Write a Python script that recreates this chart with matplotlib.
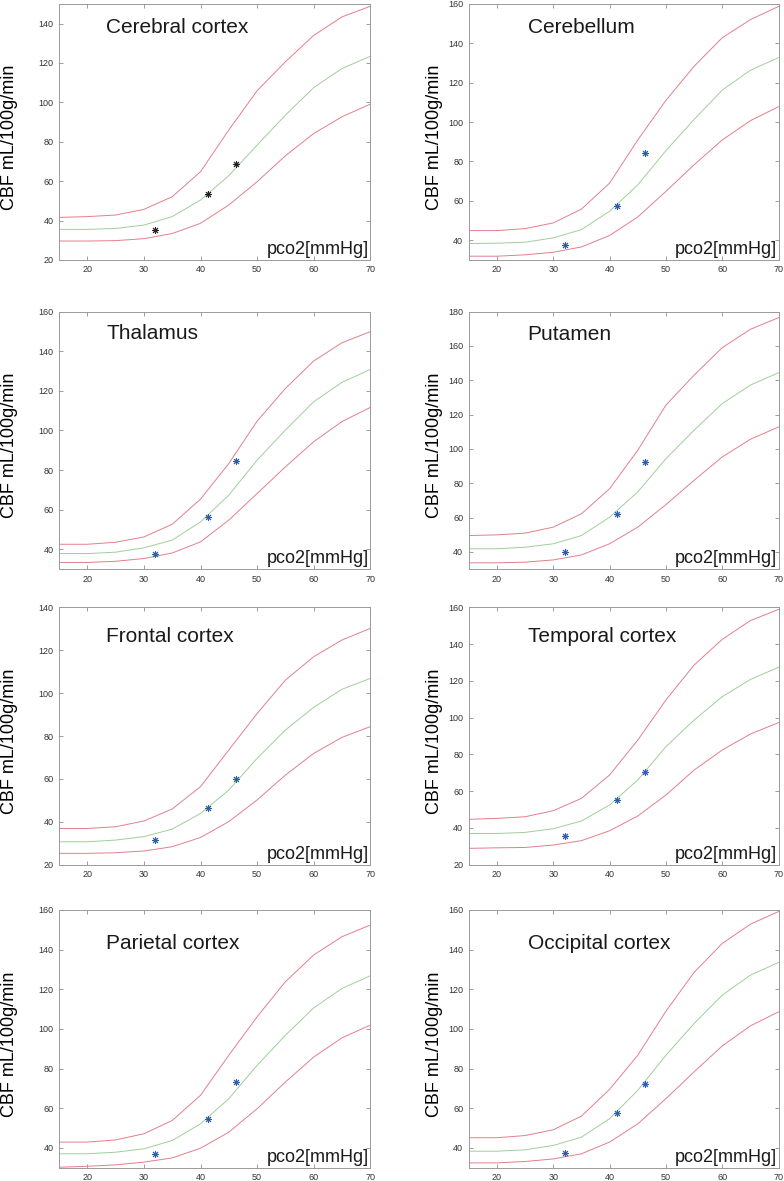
"""CBF vs pCO2 response curves for eight brain regions (upper/mean/lower bands + measured points)."""

import matplotlib
matplotlib.use("Agg")
import matplotlib.pyplot as plt

plt.rcParams["font.family"] = ["Liberation Sans", "DejaVu Sans"]

PCO2 = [15, 20, 25, 30, 35, 40, 45, 50, 55, 60, 65, 70]
MEAS_PCO2 = [32.0, 41.4, 46.3]

# Cerebral cortex
cerebral_upper = [41.6, 42.0, 42.8, 45.7, 52.1, 64.8, 86.0, 105.9, 120.6, 134.0, 143.4, 148.8]
cerebral_mean = [35.5, 35.5, 36.0, 37.7, 42.0, 50.4, 62.8, 78.3, 93.5, 107.5, 117.2, 123.4]
cerebral_lower = [29.6, 29.6, 29.8, 30.8, 33.4, 38.6, 47.9, 59.7, 72.9, 84.2, 92.7, 99.1]
cerebral_meas = [35.3, 53.3, 68.9]

# Cerebellum
cerebellum_upper = [44.9, 44.9, 45.9, 48.8, 55.8, 69.0, 90.9, 111.0, 128.3, 142.8, 152.0, 158.7]
cerebellum_mean = [38.3, 38.5, 39.0, 41.2, 45.4, 54.7, 68.1, 85.5, 101.3, 116.2, 126.3, 132.7]
cerebellum_lower = [31.9, 31.9, 32.6, 33.9, 36.6, 42.4, 51.8, 64.8, 78.3, 90.9, 100.7, 107.8]
cerebellum_meas = [37.5, 57.2, 84.5]

# Thalamus
thalamus_upper = [42.5, 42.5, 43.5, 46.2, 52.6, 65.3, 83.3, 104.7, 121.2, 135.1, 144.3, 149.9]
thalamus_mean = [37.8, 37.8, 38.5, 40.7, 44.6, 53.8, 67.3, 85.0, 100.2, 114.5, 124.3, 130.8]
thalamus_lower = [33.3, 33.3, 33.9, 35.3, 38.1, 43.7, 54.7, 68.1, 81.6, 94.3, 104.5, 111.6]
thalamus_meas = [37.8, 56.3, 84.5]

# Putamen
putamen_upper = [49.5, 49.9, 50.9, 54.4, 62.2, 76.8, 99.2, 125.5, 143.0, 159.0, 169.7, 176.5]
putamen_mean = [41.8, 41.8, 42.7, 44.7, 49.5, 60.2, 74.9, 94.3, 110.9, 126.4, 137.2, 144.4]
putamen_lower = [33.6, 33.6, 34.0, 35.3, 38.2, 44.7, 54.4, 67.5, 81.7, 95.3, 105.6, 112.8]
putamen_meas = [40.0, 62.2, 92.4]

# Frontal cortex
frontal_upper = [36.9, 36.9, 37.7, 40.4, 46.0, 56.4, 73.5, 90.5, 106.1, 117.0, 124.8, 130.2]
frontal_mean = [30.7, 30.7, 31.5, 33.1, 36.6, 43.9, 54.8, 69.6, 82.8, 93.4, 101.8, 106.9]
frontal_lower = [25.3, 25.3, 25.6, 26.4, 28.4, 32.7, 40.1, 50.2, 61.8, 71.9, 79.4, 84.4]
frontal_meas = [31.5, 46.3, 60.0]

# Temporal cortex
temporal_upper = [44.7, 45.2, 46.1, 49.4, 56.1, 68.8, 87.8, 109.6, 128.6, 142.6, 152.8, 158.9]
temporal_mean = [37.0, 37.0, 37.6, 39.6, 43.8, 52.5, 66.1, 84.2, 98.7, 111.4, 120.8, 127.4]
temporal_lower = [28.9, 29.2, 29.4, 30.7, 33.1, 38.5, 46.5, 57.9, 71.5, 82.4, 91.1, 97.3]
temporal_meas = [35.8, 55.2, 70.4]

# Parietal cortex
parietal_upper = [42.9, 42.9, 44.0, 47.1, 53.8, 66.5, 86.7, 106.1, 123.8, 137.3, 146.5, 152.4]
parietal_mean = [37.0, 37.0, 37.8, 39.5, 43.7, 52.1, 64.8, 81.6, 96.8, 110.6, 120.4, 126.8]
parietal_lower = [30.2, 30.7, 31.4, 32.8, 34.9, 39.8, 47.9, 59.7, 73.2, 85.8, 95.5, 101.9]
parietal_meas = [36.8, 54.7, 73.2]

# Occipital cortex
occipital_upper = [45.1, 45.1, 46.2, 49.1, 56.0, 69.5, 86.7, 108.9, 128.5, 143.1, 152.8, 159.2]
occipital_mean = [38.3, 38.3, 39.0, 41.2, 45.4, 54.7, 69.0, 86.7, 102.7, 117.0, 127.1, 133.5]
occipital_lower = [32.4, 32.4, 33.1, 34.4, 37.0, 42.9, 52.1, 64.8, 78.3, 91.4, 101.5, 108.6]
occipital_meas = [37.6, 57.5, 72.2]

REGIONS = ["Cerebral cortex", "Cerebellum", "Thalamus", "Putamen",
           "Frontal cortex", "Temporal cortex", "Parietal cortex", "Occipital cortex"]
UPPER = [cerebral_upper, cerebellum_upper, thalamus_upper, putamen_upper,
         frontal_upper, temporal_upper, parietal_upper, occipital_upper]
MEAN = [cerebral_mean, cerebellum_mean, thalamus_mean, putamen_mean,
        frontal_mean, temporal_mean, parietal_mean, occipital_mean]
LOWER = [cerebral_lower, cerebellum_lower, thalamus_lower, putamen_lower,
         frontal_lower, temporal_lower, parietal_lower, occipital_lower]
MEAS = [cerebral_meas, cerebellum_meas, thalamus_meas, putamen_meas,
        frontal_meas, temporal_meas, parietal_meas, occipital_meas]
YLIMS = [(20, 150), (30, 160), (30, 160), (30, 180),
         (20, 140), (20, 160), (30, 160), (30, 160)]

# layout (figure fractions), tuned to the reference
col_left = [0.0753, 0.598]
col_width = [0.397, 0.395]
row_bottom = [0.7799, 0.5182, 0.2678, 0.0113]
row_height = [0.2168, 0.2179, 0.2179, 0.2182]
title_x = [0.152, 0.19]
title_y = [0.909, 0.909, 0.916, 0.913, 0.886, 0.888, 0.87, 0.87]
ylabel_x = [-0.132, -0.082]

RED = "#e37f8c"
GREEN = "#9fcf9a"
BLUE = "#2f5ea8"

fig = plt.figure(figsize=(7.84, 11.81), dpi=100)

for i, name in enumerate(REGIONS):
    r, c = divmod(i, 2)
    ax = fig.add_axes([col_left[c], row_bottom[r], col_width[c], row_height[r]])

    ax.plot(PCO2, UPPER[i], color=RED, lw=0.7)
    ax.plot(PCO2, MEAN[i], color=GREEN, lw=0.7)
    ax.plot(PCO2, LOWER[i], color=RED, lw=0.7)

    mcol = "#222222" if i == 0 else BLUE
    ax.plot(MEAS_PCO2, MEAS[i], linestyle="none", marker=(8, 2, 0),
            markersize=5, markeredgewidth=0.7, color=mcol)

    ax.set_xlim(15, 70)
    ax.set_ylim(*YLIMS[i])
    ax.set_xticks(range(20, 71, 10))
    ax.set_yticks(range(YLIMS[i][0] + (YLIMS[i][0] % 20), YLIMS[i][1] + 1, 20))

    ax.tick_params(direction="in", top=True, right=True, length=3, width=0.5,
                   labelsize=6.5, labelcolor="#333333", color="#777777", pad=4)
    for sp in ax.spines.values():
        sp.set_color("#9a9a9a")
        sp.set_linewidth(0.7)

    ax.set_ylabel("CBF mL/100g/min", fontsize=13)
    ax.yaxis.set_label_coords(ylabel_x[c], 0.48)

    ax.text(title_x[c], title_y[i], name, transform=ax.transAxes,
            fontsize=15, ha="left", va="center", color="#1a1a1a")
    ax.text(0.995, 0.008, "pco2[mmHg]", transform=ax.transAxes,
            fontsize=13, ha="right", va="bottom", color="#1a1a1a")

fig.savefig("out.png", dpi=100)
